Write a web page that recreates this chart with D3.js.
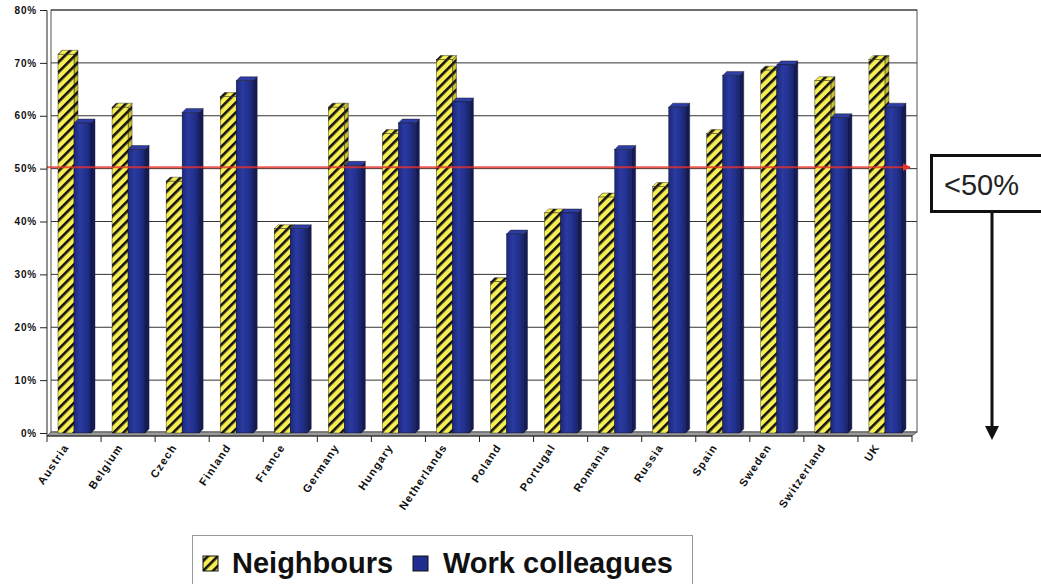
<!DOCTYPE html>
<html><head><meta charset="utf-8">
<script src="https://cdn.jsdelivr.net/npm/d3@7"></script>
<style>body{margin:0;background:#fff}svg{display:block}</style>
</head><body>
<svg id="c" width="1041" height="584"></svg>
<script>
const categories = ["Austria","Belgium","Czech","Finland","France","Germany","Hungary","Netherlands","Poland","Portugal","Romania","Russia","Spain","Sweden","Switzerland","UK"];
const neighbours = [72,62,48,64,39,62,57,71,29,42,45,47,57,69,67,71];
const colleagues = [59,54,61,67,39,51,59,63,38,42,54,62,68,70,60,62];
const yTicks = [0,10,20,30,40,50,60,70,80];
const threshold = 50;
const seriesNames = ["Neighbours","Work colleagues"];

const svg = d3.select("#c");
const font = "Arial, 'Liberation Sans', sans-serif";
const x = d3.scaleBand().domain(categories).range([47,912]).padding(0);
const y = d3.scaleLinear().domain([0,80]).range([433,10]);
const D = 4;

const defs = svg.append("defs");
const pat = defs.append("pattern").attr("id","hatch").attr("patternUnits","userSpaceOnUse")
  .attr("width",7).attr("height",7).attr("patternTransform","rotate(45)");
pat.append("rect").attr("width",7).attr("height",7).attr("fill","#f6ee52");
pat.append("rect").attr("width",2.6).attr("height",7).attr("fill","#111");
const pat2 = defs.append("pattern").attr("id","hatchS").attr("patternUnits","userSpaceOnUse")
  .attr("width",7).attr("height",7).attr("patternTransform","rotate(45)");
pat2.append("rect").attr("width",7).attr("height",7).attr("fill","#c9c032");
pat2.append("rect").attr("width",2.6).attr("height",7).attr("fill","#111");
const g1 = defs.append("linearGradient").attr("id","blue").attr("x1",0).attr("x2",1).attr("y1",0).attr("y2",0);
[[0,"#1a2780"],[0.35,"#2a3a9e"],[0.7,"#22318f"],[1,"#17226e"]].forEach(s=>g1.append("stop").attr("offset",s[0]).attr("stop-color",s[1]));
const mk = defs.append("marker").attr("id","redArrow").attr("viewBox","0 0 10 10").attr("refX",9).attr("refY",5)
  .attr("markerWidth",4).attr("markerHeight",4).attr("orient","auto");
mk.append("path").attr("d","M0,0L10,5L0,10Z").attr("fill","#e8322a");

// back wall
svg.append("rect").attr("x",51).attr("y",10).attr("width",866).attr("height",422).attr("fill","#fff").attr("stroke","#555").attr("stroke-width",1);
// gridlines
svg.append("g").selectAll("line").data(yTicks.filter(t=>t>0)).join("line")
  .attr("x1",51).attr("x2",917).attr("y1",d=>y(d)).attr("y2",d=>y(d)).attr("stroke","#333").attr("stroke-width",1);
// floor
svg.append("path").attr("d",`M47,436L912,436L917,432L51,432Z`).attr("fill","#9a9a9a").attr("stroke","#444").attr("stroke-width",0.8);

// bars
const bars = svg.append("g");
categories.forEach((c,i)=>{
  const x0 = x(c);
  const specs = [
    {v:neighbours[i], xs:x0+11, w:16, front:"url(#hatch)", side:"url(#hatchS)", top:"url(#hatch)"},
    {v:colleagues[i], xs:x0+27, w:17, front:"url(#blue)", side:"#131b5c", top:"#2d3da3"}
  ];
  specs.forEach(s=>{
    const yt = y(s.v)+2, yb = y(0);
    const g = bars.append("g");
    g.append("path").attr("d",`M${s.xs+s.w},${yt}L${s.xs+s.w+D},${yt-D}L${s.xs+s.w+D},${yb-D}L${s.xs+s.w},${yb}Z`).attr("fill",s.side).attr("stroke","#111").attr("stroke-width",0.4);
    g.append("path").attr("d",`M${s.xs},${yt}L${s.xs+D},${yt-D}L${s.xs+s.w+D},${yt-D}L${s.xs+s.w},${yt}Z`).attr("fill",s.top).attr("stroke","#111").attr("stroke-width",0.4);
    g.append("rect").attr("x",s.xs).attr("y",yt).attr("width",s.w).attr("height",yb-yt).attr("fill",s.front).attr("stroke","#111").attr("stroke-width",0.4);
  });
});

// threshold line
svg.append("line").attr("x1",47).attr("x2",910).attr("y1",y(threshold)-1.5).attr("y2",y(threshold)-1.5)
  .attr("stroke","#e8322a").attr("stroke-width",2).attr("stroke-opacity",0.8).attr("marker-end","url(#redArrow)");

// y axis
const yAxis = d3.axisLeft(y).tickValues(yTicks).tickFormat(d=>d+"%").tickSize(7).tickPadding(3);
const ya = svg.append("g").attr("transform","translate(47,0)").call(yAxis);
ya.select(".domain").attr("d","M-7,10.5H0V436").attr("stroke","#222");
ya.selectAll(".tick line").attr("stroke","#222");
ya.selectAll("text").attr("font-family",font).attr("font-weight","bold").attr("font-size",10).attr("letter-spacing",0.8).attr("fill","#111");

// x axis
const xa = svg.append("g").attr("transform","translate(0,436)");
xa.append("line").attr("x1",47).attr("x2",912).attr("stroke","#222");
xa.selectAll("line.t").data(categories.concat(["__end"])).join("line").attr("class","t")
  .attr("x1",(d,i)=>47+i*x.bandwidth()).attr("x2",(d,i)=>47+i*x.bandwidth()).attr("y1",0).attr("y2",6).attr("stroke","#222");
xa.selectAll("text").data(categories).join("text")
  .attr("transform",d=>`translate(${x(d)+x.bandwidth()/2-8},9) rotate(-56)`)
  .attr("text-anchor","end").attr("dy","0.35em")
  .attr("font-family",font).attr("font-weight","bold").attr("font-size",11).attr("letter-spacing",1.2).attr("fill","#111").text(d=>d);

// annotation box
svg.append("rect").attr("x",931.5).attr("y",155.5).attr("width",115).attr("height",56).attr("fill","#fff").attr("stroke","#111").attr("stroke-width",3);
svg.append("text").attr("x",944).attr("y",195).attr("font-family",font).attr("font-size",29).attr("fill","#222").text("<"+threshold+"%");
svg.append("line").attr("x1",992).attr("x2",992).attr("y1",213).attr("y2",428).attr("stroke","#111").attr("stroke-width",3);
svg.append("path").attr("d","M985,426L999,426L992,440Z").attr("fill","#111");

// legend
const lg = svg.append("g");
lg.append("rect").attr("x",192.5).attr("y",535.5).attr("width",500).attr("height",60).attr("fill","#fff").attr("stroke","#999");
lg.append("rect").attr("x",203).attr("y",556).attr("width",15).attr("height",15).attr("fill","url(#hatch)").attr("stroke","#111");
lg.append("text").attr("x",232).attr("y",573).attr("font-family",font).attr("font-weight","bold").attr("font-size",29).attr("fill","#111").text(seriesNames[0]);
lg.append("rect").attr("x",413).attr("y",556).attr("width",15).attr("height",15).attr("fill","#1f2e8f").attr("stroke","#111");
lg.append("text").attr("x",443).attr("y",573).attr("font-family",font).attr("font-weight","bold").attr("font-size",29).attr("fill","#111").text(seriesNames[1]);
</script>
</body></html>
